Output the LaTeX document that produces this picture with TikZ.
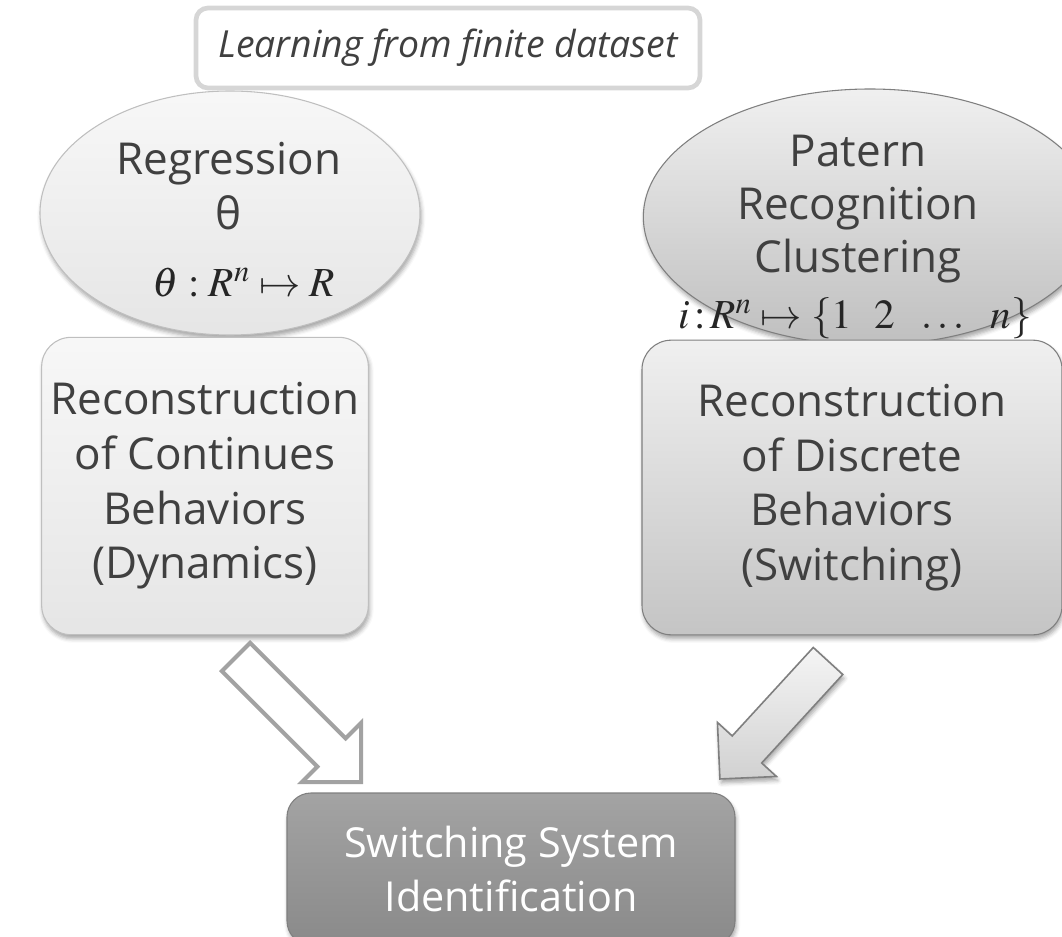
\documentclass[tikz,border=0pt]{standalone}
\usepackage{mathptmx}
\usepackage{fontspec}
\setmainfont{Open Sans}
\usetikzlibrary{shapes.geometric,shadows.blur}
\definecolor{txtgray}{HTML}{404040}
\definecolor{lineA}{HTML}{BFBFBF}
\definecolor{lineB}{HTML}{7F7F7F}

\begin{document}
\begin{tikzpicture}[x=0.75pt,y=-0.75pt,
  txt/.style={text=txtgray,align=center,font=\fontsize{33}{41}\selectfont},
  mapto/.style={text=black!85,inner sep=0pt,font=\fontsize{31}{36}\selectfont},
  soft/.style={blur shadow={shadow xshift=1pt,shadow yshift=-3pt,shadow blur radius=3pt,shadow opacity=35}},
  oval/.style={ellipse,draw,line width=0.8pt,inner sep=0pt,soft},
  card/.style={rectangle,rounded corners=22pt,draw,line width=0.8pt,inner sep=0pt,soft,txt},
  hollow/.style={draw=lineA!85!black,line width=3pt,fill=white},
  solid/.style={draw=lineB,line width=1.2pt,top color=white!96!black,bottom color=white!82!black,soft}]
\clip (0,0) rectangle (1062,937);
\node[oval,draw=lineA,top color=white!97!black,bottom color=white!90!black,
  minimum width=285pt,minimum height=183pt] (regrbg) at (230,213) {};
\node[txt] (regr) at (229,186) {Regression\\θ};
\node[mapto] (regrmap) at (244,283) {$\theta : R^n \mapsto R$};
\node[oval,draw=lineB,top color=white!94!black,bottom color=white!75!black,
  minimum width=340pt,minimum height=192pt] (pattbg) at (870,217) {};
\node[txt,font=\fontsize{33}{40}\selectfont] (patt) at (858,209) {Patern\\Recognition\\Clustering};
\node[mapto] (pattmap) at (855,318) {$i\!:\!R^n \mapsto \{1\ \ 2\ \ \ldots\ \ n\}$};
\node[rectangle,rounded corners=9pt,draw=white!84!black,line width=3.5pt,fill=white,
  inner sep=0pt,minimum width=378pt,minimum height=60pt,text=txtgray,
  font=\fontsize{28}{32}\selectfont\itshape] (title) at (448,48) {Learning from finite dataset};
\node[card,draw=lineA,top color=white!97!black,bottom color=white!90!black,
  minimum width=245pt,minimum height=223pt] (contin) at (205,486)
  {Reconstruction\\of Continues\\Behaviors\\(Dynamics)};
\node[card,draw=lineB,top color=white!94!black,bottom color=white!77!black,
  minimum width=315pt,minimum height=221pt] (discr) at (852,487.5)
  {Reconstruction\\of Discrete\\Behaviors\\(Switching)};
\node[card,rounded corners=18pt,draw=lineB,top color=white!64!black,bottom color=white!54!black,
  text=white,font=\fontsize{31}{40}\selectfont,minimum width=336pt,minimum height=114pt] (ident) at (511,869)
  {Switching System\\Identification};
\begin{scope}[shift={(236,657)},rotate=-45]
\draw[hollow] (0,-20) -- (135,-20) -- (135,-42) -- (177,0) -- (135,42) -- (135,20) -- (0,20) -- cycle;
\end{scope}
\begin{scope}[shift={(828,661)},rotate=-132.5]
\draw[solid] (0,-20) -- (120,-20) -- (120,-40) -- (160,0) -- (120,40) -- (120,20) -- (0,20) -- cycle;
\end{scope}
\end{tikzpicture}
\end{document}
